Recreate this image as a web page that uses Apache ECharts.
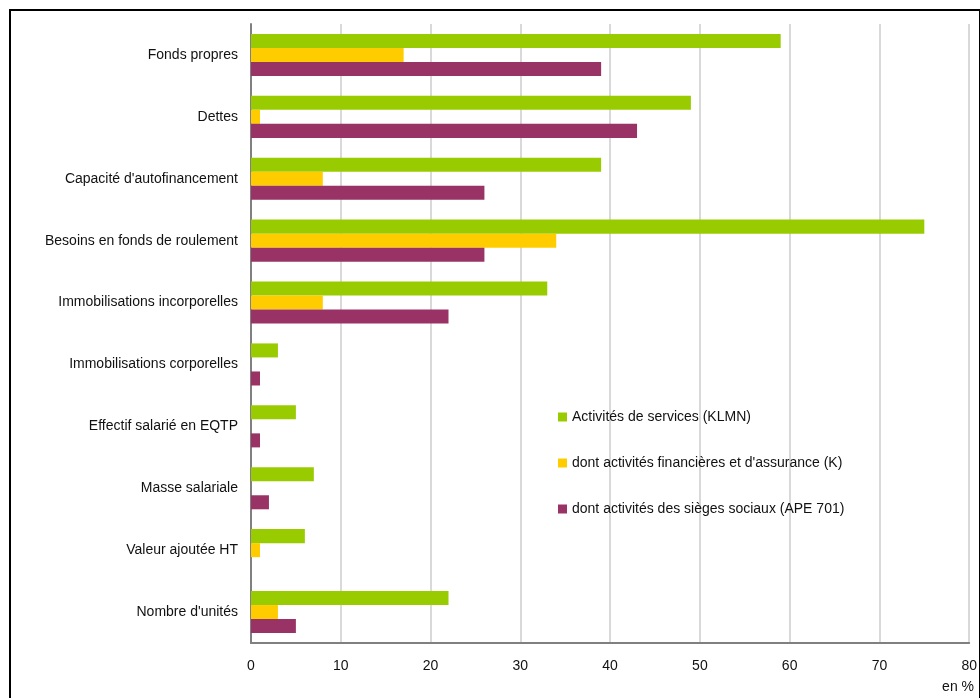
<!DOCTYPE html>
<html><head><meta charset="utf-8">
<script src="https://cdn.jsdelivr.net/npm/echarts@6/dist/echarts.min.js"></script>
<style>html,body{margin:0;padding:0;background:#fff}#c{width:980px;height:698px}
#frame{position:absolute;left:9px;top:9px;width:968px;height:700px;border:2px solid #000;pointer-events:none}</style>
</head><body><div id="c"></div><div id="frame"></div>
<script>
const categories = ["Fonds propres","Dettes","Capacité d'autofinancement","Besoins en fonds de roulement","Immobilisations incorporelles","Immobilisations corporelles","Effectif salarié en EQTP","Masse salariale","Valeur ajoutée HT","Nombre d'unités"];
const seriesNames = ["Activités de services (KLMN)","dont activités financières et d'assurance (K)","dont activités des sièges sociaux (APE 701)"];
const services = [59,49,39,75,33,3,5,7,6,22];
const financieres = [17,1,8,34,8,0,0,0,1,3];
const sieges = [39,43,26,26,22,1,1,2,0,5];
const xTicks = [0,10,20,30,40,50,60,70,80];
const colors = ['#99CC00','#FFCC00','#993366'];
const font = 'Liberation Sans, Arial, sans-serif';
const chart = echarts.init(document.getElementById('c'));
chart.setOption({
  animation:false,
  grid:{left:251,right:10,top:24,bottom:55,containLabel:false},
  legend:{orient:'vertical',left:553,top:405,itemWidth:9,itemHeight:9,itemGap:32,icon:'rect',
    textStyle:{fontFamily:font,fontSize:14,color:'#111'},
    data:seriesNames},
  xAxis:{type:'value',min:xTicks[0],max:xTicks[xTicks.length-1],interval:10,
    axisLine:{show:true,lineStyle:{color:'#808080',width:2}},axisTick:{show:false},
    axisLabel:{fontFamily:font,fontSize:14,color:'#111',margin:16},
    splitLine:{lineStyle:{color:'#d9d9d9',width:2}}},
  yAxis:{type:'category',inverse:true,data:categories,
    axisLine:{lineStyle:{color:'#808080',width:2}},axisTick:{show:false},
    axisLabel:{fontFamily:font,fontSize:14,color:'#111',margin:13}},
  graphic:[{type:'text',right:6,top:680,style:{text:'en %',font:'14px '+font,fill:'#111'}}],
  series:[
    {name:seriesNames[0],type:'bar',data:services,itemStyle:{color:colors[0]},barGap:'0%',barCategoryGap:'32%'},
    {name:seriesNames[1],type:'bar',data:financieres,itemStyle:{color:colors[1]},barGap:'0%',barCategoryGap:'32%'},
    {name:seriesNames[2],type:'bar',data:sieges,itemStyle:{color:colors[2]},barGap:'0%',barCategoryGap:'32%'}
  ]
});
</script></body></html>
